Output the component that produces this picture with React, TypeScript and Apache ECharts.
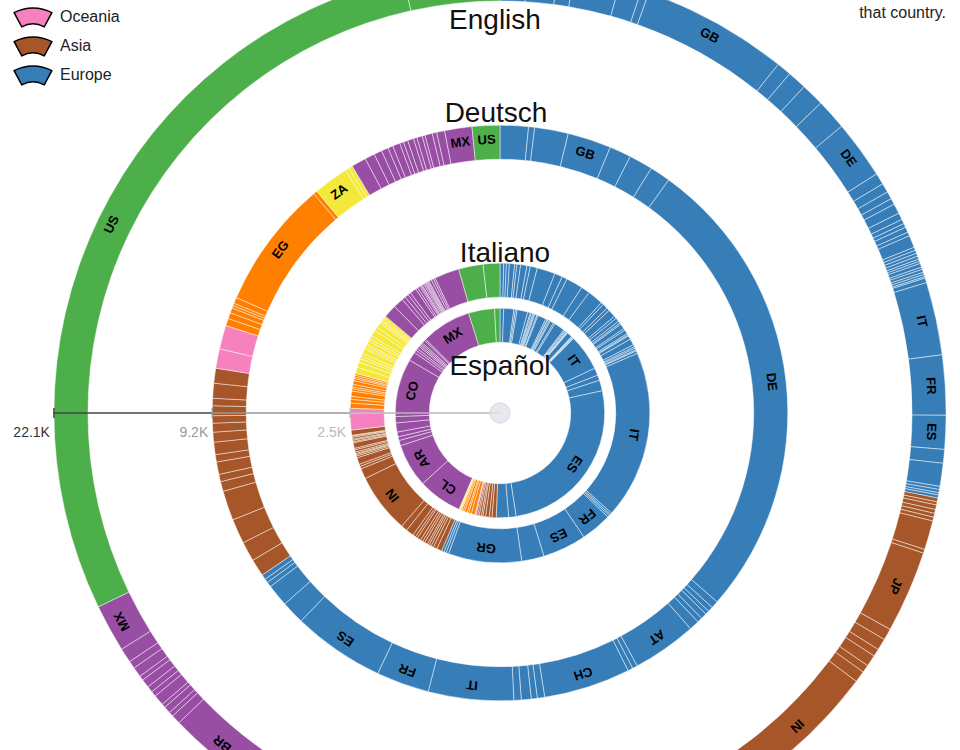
import React, { useEffect, useRef } from "react";
import * as echarts from "echarts";

type Seg = [string, string, number];

const continentKeys = ["EU", "AS", "OC", "ME", "AF", "LA", "NA"];
const continentNames = ["Europe", "Asia", "Oceania", "Middle East", "Africa", "Latin America", "North America"];
const continentColors = ["#377eb8", "#a65628", "#f781bf", "#ff7f00", "#f4e83a", "#984ea3", "#4daf4a"];

const languages = ["English", "Deutsch", "Italiano", "Español"];

const english: Seg[] = [
  ["PT", "EU", 215], ["PL", "EU", 246], ["NL", "EU", 129], ["RU", "EU", 368], ["SE", "EU", 178], ["NO", "EU", 61],
  ["GB", "EU", 1173], ["IE", "EU", 117], ["BE", "EU", 153], ["DK", "EU", 184], ["FI", "EU", 246], ["DE", "EU", 467],
  ["CH", "EU", 92], ["AT", "EU", 74], ["CZ", "EU", 61], ["HU", "EU", 49], ["RO", "EU", 80], ["GR", "EU", 55],
  ["BG", "EU", 37], ["HR", "EU", 31], ["RS", "EU", 43], ["SK", "EU", 31], ["UA", "EU", 98], ["LT", "EU", 25],
  ["LV", "EU", 25], ["EE", "EU", 25], ["SI", "EU", 25], ["IS", "EU", 18], ["LU", "EU", 18], ["CY", "EU", 31],
  ["MT", "EU", 18], ["BA", "EU", 25], ["AL", "EU", 18], ["MK", "EU", 18], ["MD", "EU", 12], ["BY", "EU", 37],
  ["IT", "EU", 583], ["FR", "EU", 479], ["ES", "EU", 270], ["AD", "EU", 110], ["MC", "EU", 184], ["LI", "EU", 25],
  ["SM", "EU", 25], ["GI", "EU", 18], ["FO", "EU", 25],
  ["TR", "AS", 31], ["KZ", "AS", 25], ["UZ", "AS", 37], ["AZ", "AS", 31], ["AM", "AS", 31], ["GE", "AS", 31],
  ["CN", "AS", 233], ["KR", "AS", 31], ["JP", "AS", 657], ["TW", "AS", 92], ["HK", "AS", 92], ["VN", "AS", 61],
  ["TH", "AS", 92], ["ID", "AS", 61], ["BD", "AS", 92], ["IN", "AS", 1166], ["PK", "AS", 246], ["PH", "AS", 246],
  ["SG", "AS", 123], ["MY", "AS", 123], ["LK", "AS", 92], ["NP", "AS", 92],
  ["AU", "OC", 675], ["NZ", "OC", 123],
  ["IL", "ME", 123], ["AE", "ME", 123], ["SA", "ME", 123], ["EG", "ME", 123],
  ["NG", "AF", 307], ["ZA", "AF", 307], ["KE", "AF", 123], ["GH", "AF", 123],
  ["AR", "LA", 246], ["CO", "LA", 246], ["CL", "LA", 184], ["PE", "LA", 184], ["VE", "LA", 123], ["EC", "LA", 123],
  ["BR", "LA", 737], ["UY", "LA", 74], ["PY", "LA", 37], ["BO", "LA", 55], ["CR", "LA", 31], ["PA", "LA", 86],
  ["GT", "LA", 43], ["DO", "LA", 49], ["PR", "LA", 68], ["HN", "LA", 37], ["SV", "LA", 80], ["NI", "LA", 61],
  ["CU", "LA", 117], ["MX", "LA", 381],
  ["US", "NA", 6342], ["CA", "NA", 767],
];

const deutsch: Seg[] = [
  ["NL", "EU", 146], ["BE", "EU", 31], ["DK", "EU", 174], ["GB", "EU", 225], ["SE", "EU", 112], ["PL", "EU", 123],
  ["NO", "EU", 107], ["DE", "EU", 2431], ["CZ", "EU", 38], ["HU", "EU", 26], ["LI", "EU", 20], ["SK", "EU", 31],
  ["HR", "EU", 26], ["RO", "EU", 51], ["AT", "EU", 332], ["SI", "EU", 26], ["RS", "EU", 26], ["CH", "EU", 447],
  ["GR", "EU", 38], ["BG", "EU", 31], ["UA", "EU", 51], ["RU", "EU", 38], ["IT", "EU", 440], ["FR", "EU", 273],
  ["ES", "EU", 475], ["PT", "EU", 120], ["FI", "EU", 115], ["EE", "EU", 26], ["LT", "EU", 20], ["LV", "EU", 26],
  ["TR", "AS", 89], ["CN", "AS", 102], ["JP", "AS", 128], ["IN", "AS", 153], ["KR", "AS", 51], ["TW", "AS", 38],
  ["TH", "AS", 64], ["VN", "AS", 38], ["ID", "AS", 64], ["PH", "AS", 51], ["SG", "AS", 46], ["MY", "AS", 38],
  ["KZ", "AS", 51], ["PK", "AS", 38], ["HK", "AS", 77], ["GE", "AS", 77],
  ["NZ", "OC", 100], ["AU", "OC", 123],
  ["IL", "ME", 38], ["AE", "ME", 31], ["SA", "ME", 26], ["LB", "ME", 13], ["JO", "ME", 13], ["IQ", "ME", 31],
  ["EG", "ME", 665], ["KW", "ME", 20],
  ["ZA", "AF", 181], ["NA", "AF", 20], ["KE", "AF", 20],
  ["BR", "LA", 77], ["AR", "LA", 51], ["CL", "LA", 41], ["CO", "LA", 36], ["PE", "LA", 26], ["VE", "LA", 38],
  ["EC", "LA", 20], ["UY", "LA", 23], ["PY", "LA", 31], ["BO", "LA", 18], ["CR", "LA", 28], ["GT", "LA", 15],
  ["DO", "LA", 38], ["CU", "LA", 23], ["PA", "LA", 41], ["MX", "LA", 141],
  ["US", "NA", 143],
];

const italiano: Seg[] = [
  ["IS", "EU", 10], ["BE", "EU", 7], ["LU", "EU", 8], ["NL", "EU", 14], ["IE", "EU", 6], ["DK", "EU", 10],
  ["SE", "EU", 17], ["NO", "EU", 9], ["FI", "EU", 19], ["GB", "EU", 49], ["PL", "EU", 21], ["CZ", "EU", 14],
  ["DE", "EU", 45], ["AT", "EU", 24], ["CH", "EU", 42], ["SI", "EU", 7], ["HR", "EU", 14], ["HU", "EU", 8],
  ["RO", "EU", 21], ["BG", "EU", 7], ["RS", "EU", 10], ["BA", "EU", 6], ["XK", "EU", 4], ["AL", "EU", 14],
  ["MK", "EU", 5], ["MT", "EU", 11], ["SM", "EU", 4], ["VA", "EU", 3], ["UA", "EU", 10], ["RU", "EU", 17],
  ["BY", "EU", 6], ["LT", "EU", 4], ["LV", "EU", 5], ["EE", "EU", 3], ["CY", "EU", 7],
  ["IT", "EU", 453], ["MC", "EU", 5], ["LI", "EU", 4], ["AD", "EU", 5], ["FR", "EU", 83], ["ES", "EU", 118],
  ["PT", "EU", 60], ["GR", "EU", 197], ["MD", "EU", 7], ["GI", "EU", 6], ["FO", "EU", 7],
  ["CN", "AS", 14], ["JP", "AS", 10], ["KR", "AS", 7], ["TW", "AS", 6], ["HK", "AS", 5], ["PH", "AS", 8],
  ["VN", "AS", 6], ["TH", "AS", 7], ["ID", "AS", 10], ["MY", "AS", 6], ["SG", "AS", 8], ["BD", "AS", 21],
  ["LK", "AS", 17], ["IN", "AS", 160], ["PK", "AS", 28], ["NP", "AS", 7], ["AF", "AS", 6], ["KZ", "AS", 18],
  ["UZ", "AS", 5], ["KG", "AS", 4], ["TJ", "AS", 3], ["MN", "AS", 4], ["KH", "AS", 6], ["LA", "AS", 4],
  ["MM", "AS", 15], ["BT", "AS", 3], ["MV", "AS", 4], ["BN", "AS", 3], ["MO", "AS", 5], ["TL", "AS", 3],
  ["KP", "AS", 2], ["TR", "AS", 14],
  ["AU", "OC", 45], ["NZ", "OC", 13],
  ["IL", "ME", 14], ["AE", "ME", 10], ["SA", "ME", 8], ["EG", "ME", 14], ["LB", "ME", 6], ["JO", "ME", 5],
  ["IQ", "ME", 7], ["IR", "ME", 10], ["SY", "ME", 6], ["KW", "ME", 4], ["QA", "ME", 5], ["OM", "ME", 5],
  ["MA", "AF", 17], ["TN", "AF", 14], ["DZ", "AF", 10], ["LY", "AF", 7], ["NG", "AF", 8], ["ZA", "AF", 14],
  ["KE", "AF", 7], ["GH", "AF", 6], ["SN", "AF", 10], ["CI", "AF", 7], ["CM", "AF", 8], ["ET", "AF", 17],
  ["SO", "AF", 10], ["ER", "AF", 14], ["TZ", "AF", 6], ["UG", "AF", 4], ["AO", "AF", 6], ["MZ", "AF", 7],
  ["BR", "LA", 35], ["AR", "LA", 28], ["CL", "LA", 10], ["CO", "LA", 10], ["PE", "LA", 8], ["VE", "LA", 17],
  ["EC", "LA", 6], ["UY", "LA", 7], ["PY", "LA", 4], ["BO", "LA", 3], ["CR", "LA", 5], ["PA", "LA", 4],
  ["GT", "LA", 3], ["HN", "LA", 3], ["SV", "LA", 3], ["NI", "LA", 3], ["DO", "LA", 7], ["CU", "LA", 6],
  ["PR", "LA", 5], ["MX", "LA", 67],
  ["US", "NA", 66], ["CA", "NA", 45],
];

const espanol: Seg[] = [
  ["PT", "EU", 7], ["GB", "EU", 19], ["NL", "EU", 3], ["BE", "EU", 3], ["DE", "EU", 20], ["CH", "EU", 5],
  ["AT", "EU", 2], ["SE", "EU", 3], ["NO", "EU", 2], ["DK", "EU", 2], ["PL", "EU", 4], ["CZ", "EU", 2],
  ["RO", "EU", 16], ["GR", "EU", 3], ["HU", "EU", 1], ["IE", "EU", 3], ["FI", "EU", 2], ["RU", "EU", 7],
  ["UA", "EU", 3], ["FR", "EU", 20], ["BG", "EU", 2], ["HR", "EU", 2], ["RS", "EU", 2], ["SK", "EU", 1],
  ["SI", "EU", 1], ["LT", "EU", 1], ["AD", "EU", 10], ["LU", "EU", 1], ["MT", "EU", 1], ["CY", "EU", 1],
  ["EE", "EU", 1], ["LV", "EU", 1],
  ["IT", "EU", 68], ["BA", "EU", 14], ["AL", "EU", 10], ["MK", "EU", 20], ["ES", "EU", 316], ["VA", "EU", 14],
  ["GI", "EU", 23],
  ["PH", "AS", 8], ["CN", "AS", 5], ["JP", "AS", 7], ["IN", "AS", 5], ["KR", "AS", 3], ["TR", "AS", 4],
  ["ID", "AS", 3], ["TH", "AS", 3],
  ["AU", "OC", 2],
  ["IL", "ME", 7], ["AE", "ME", 5], ["SA", "ME", 3], ["EG", "ME", 5], ["LB", "ME", 3], ["IR", "ME", 3],
  ["GQ", "AF", 3], ["MA", "AF", 2],
  ["CL", "LA", 83], ["AR", "LA", 82], ["UY", "LA", 10], ["PY", "LA", 7], ["BO", "LA", 9], ["PE", "LA", 17],
  ["EC", "LA", 12], ["CO", "LA", 109], ["VE", "LA", 17], ["CR", "LA", 5], ["PA", "LA", 4], ["GT", "LA", 5],
  ["HN", "LA", 3], ["SV", "LA", 3], ["NI", "LA", 3], ["DO", "LA", 6], ["CU", "LA", 3], ["MX", "LA", 94],
  ["US", "NA", 49], ["CA", "NA", 10],
];

const englishLabels = ["RU", "GB", "DE", "IT", "FR", "ES", "JP", "IN", "BR", "MX", "US"];
const deutschLabels = ["GB", "DE", "AT", "CH", "IT", "FR", "ES", "EG", "ZA", "MX", "US"];
const italianoLabels = ["IT", "FR", "ES", "GR", "IN"];
const espanolLabels = ["IT", "ES", "CL", "AR", "CO", "MX"];

const legendShown = ["Oceania", "Asia", "Europe"];
const noteText = "that country.";

const ringData = [english, deutsch, italiano, espanol];
const ringLabels = [englishLabels, deutschLabels, italianoLabels, espanolLabels];

// layout
const CX = 500;
const CY = 413;
const K = 3; // sqrt radius scale
const BAND = 34;
const FONT = "'Liberation Sans', Arial, Helvetica, sans-serif";
const axisLineColors = ["#444", "#999", "#b8b8b8"];
const axisTextColors = ["#333", "#999", "#bbb"];
const titleX = [-5, -4, 5, 0];

function colorOf(key: string) {
  return continentColors[continentKeys.indexOf(key)];
}

function total(segs: Seg[]) {
  return segs.reduce((s, d) => s + d[2], 0);
}

function fmtK(v: number) {
  return (v / 1000).toFixed(1) + "K";
}

function buildOption() {
  const totals = ringData.map(total);
  const outer = totals.map((t) => K * Math.sqrt(t));
  const inner = outer.map((r) => r - BAND);

  const series = ringData.map((segs, i) => {
    const tot = totals[i];
    let cum = 0;
    const data = segs.map(([code, cont, v]) => {
      const mid = ((cum + v / 2) / tot) * 360;
      cum += v;
      return {
        name: code,
        value: v,
        itemStyle: { color: colorOf(cont) },
        label: { show: ringLabels[i].includes(code), rotate: -mid },
      };
    });
    return {
      type: "pie",
      name: languages[i],
      radius: [inner[i], outer[i]],
      center: [CX, CY],
      startAngle: 90,
      clockwise: true,
      silent: true,
      avoidLabelOverlap: false,
      minAngle: 0,
      label: {
        position: "inside",
        formatter: "{b}",
        fontSize: 13,
        fontWeight: "bold",
        color: "#000",
        fontFamily: FONT,
      },
      labelLine: { show: false },
      itemStyle: { borderColor: "rgba(255,255,255,0.78)", borderWidth: 0.6 },
      emphasis: { disabled: true },
      data,
    };
  });

  const graphics: any[] = [];

  // titles
  const titleR = [inner[0] - 19, outer[1] + 13, outer[2] + 11, inner[3] - 23];
  languages.forEach((name, i) => {
    graphics.push({
      type: "text",
      x: CX + titleX[i],
      y: CY - titleR[i],
      z: 100,
      style: {
        text: name,
        fill: "#111",
        fontSize: 28,
        fontFamily: FONT,
        align: "center",
        verticalAlign: "middle",
      },
    });
  });

  // radius axis
  const ticks = [0, 1, 2].map((i) => CX - outer[i]);
  ticks.forEach((x, i) => {
    const xEnd = i < 2 ? ticks[i + 1] : CX;
    graphics.push({
      type: "line",
      z: 100,
      shape: { x1: x, y1: CY, x2: xEnd, y2: CY },
      style: { stroke: axisLineColors[i], lineWidth: 1.5 },
    });
    graphics.push({
      type: "line",
      z: 100,
      shape: { x1: x, y1: CY - 5, x2: x, y2: CY + 5 },
      style: { stroke: axisLineColors[i], lineWidth: 1.5 },
    });
    graphics.push({
      type: "text",
      z: 100,
      x: x - 4,
      y: CY + 19,
      style: {
        text: fmtK(totals[i]),
        fill: axisTextColors[i],
        fontSize: 14,
        fontFamily: FONT,
        align: "right",
        verticalAlign: "middle",
      },
    });
  });
  graphics.push({
    type: "circle",
    z: 101,
    shape: { cx: CX, cy: CY, r: 10 },
    style: { fill: "rgba(228,228,236,0.85)", stroke: "#d6d6de", lineWidth: 1 },
  });

  // legend
  legendShown.forEach((name, i) => {
    const idx = continentNames.indexOf(name);
    const cy = 48 + i * 29;
    graphics.push({
      type: "sector",
      z: 100,
      shape: {
        cx: 33,
        cy,
        r: 40,
        r0: 24,
        startAngle: -Math.PI / 2 - 0.49,
        endAngle: -Math.PI / 2 + 0.49,
        clockwise: true,
      },
      style: { fill: continentColors[idx], stroke: "#000", lineWidth: 1.5 },
    });
    graphics.push({
      type: "text",
      z: 100,
      x: 60,
      y: cy - 32,
      style: { text: name, fill: "#222", fontSize: 16, fontFamily: FONT, align: "left", verticalAlign: "middle" },
    });
  });

  graphics.push({
    type: "text",
    z: 100,
    x: 946,
    y: 12,
    style: { text: noteText, fill: "#222", fontSize: 16, fontFamily: FONT, align: "right", verticalAlign: "middle" },
  });

  return {
    animation: false,
    backgroundColor: "#fff",
    textStyle: { fontFamily: FONT },
    series,
    graphic: graphics,
  };
}

export default function App() {
  const ref = useRef<HTMLDivElement>(null);
  useEffect(() => {
    if (!ref.current) return;
    const chart = echarts.init(ref.current, null, { renderer: "svg" });
    chart.setOption(buildOption() as any);
    return () => chart.dispose();
  }, []);
  return (
    <div
      ref={ref}
      style={{ position: "absolute", left: 0, top: 0, width: 960, height: 750, background: "#fff" }}
    />
  );
}
